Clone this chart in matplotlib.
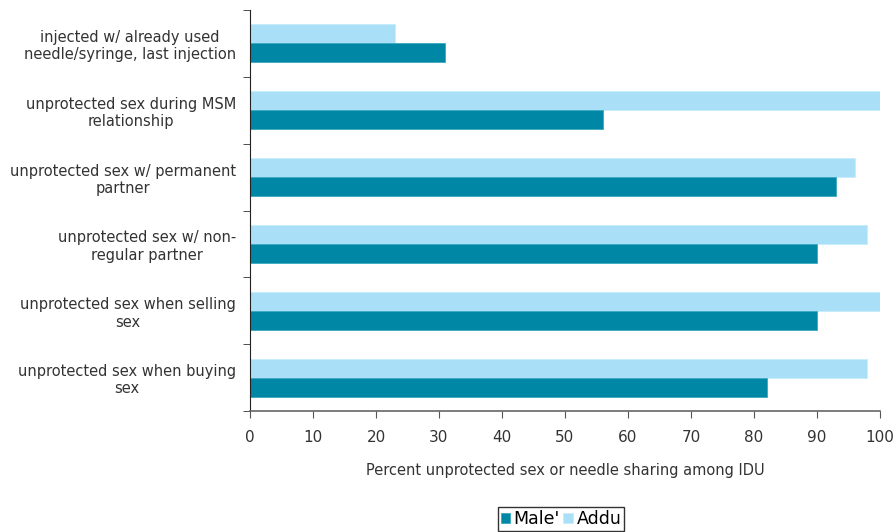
import numpy as np
import matplotlib.pyplot as plt

categories = [
    "injected w/ already used\nneedle/syringe, last injection",
    "unprotected sex during MSM\nrelationship",
    "unprotected sex w/ permanent\npartner",
    "unprotected sex w/ non-\nregular partner",
    "unprotected sex when selling\nsex",
    "unprotected sex when buying\nsex",
]
male = [31, 56, 93, 90, 90, 82]
addu = [23, 100, 96, 98, 100, 98]
xticks = [0, 10, 20, 30, 40, 50, 60, 70, 80, 90, 100]

plt.rcParams['font.family'] = ['DejaVu Sans']

fig = plt.figure(figsize=(8.94, 5.32), dpi=100)
ax = fig.add_axes([250 / 894, 1 - 411 / 532, 630 / 894, 401 / 532])

y = np.arange(len(categories))
h = 0.285
ax.barh(y - h / 2, addu, height=h, color='#aadff8', edgecolor='#c8ecfc', linewidth=0.6, label='Addu')
ax.barh(y + h / 2, male, height=h, color='#0087a6', edgecolor='#3aa8c0', linewidth=0.6, label="Male'")

ax.set_xlim(0, 100)
ax.set_ylim(len(categories) - 0.5, -0.5)
ax.set_xticks(xticks)
ax.set_xticklabels([str(t) for t in xticks], fontsize=11, color='#333333')
ax.set_yticks(y)
ax.set_yticklabels(categories, fontsize=10.5, color='#333333', multialignment='center')
ax.tick_params(axis='y', length=0, pad=10)
ax.set_yticks(np.arange(len(categories) + 1) - 0.5, minor=True)
ax.tick_params(axis='y', which='minor', length=5, direction='out', color='#333333')
ax.tick_params(axis='x', length=5, direction='out', color='#555555', pad=9)

for s in ['top', 'right']:
    ax.spines[s].set_visible(False)
ax.spines['left'].set_color('#222222')
ax.spines['bottom'].set_color('#666666')
ax.spines['bottom'].set_linewidth(1.2)

ax.set_xlabel("Percent unprotected sex or needle sharing among IDU", fontsize=10.5, color='#333333', labelpad=13)

handles, labels = ax.get_legend_handles_labels()
leg = fig.legend(handles[::-1], labels[::-1], loc='center', bbox_to_anchor=(561 / 894, 1 - 519 / 532),
                 ncol=2, frameon=True, fancybox=False, edgecolor='black', fontsize=12.5,
                 handlelength=0.55, handleheight=0.55, handletextpad=0.2, columnspacing=0.2,
                 borderpad=0.15, borderaxespad=0)
leg.get_frame().set_linewidth(1.0)

fig.savefig('out.png', dpi=100)
